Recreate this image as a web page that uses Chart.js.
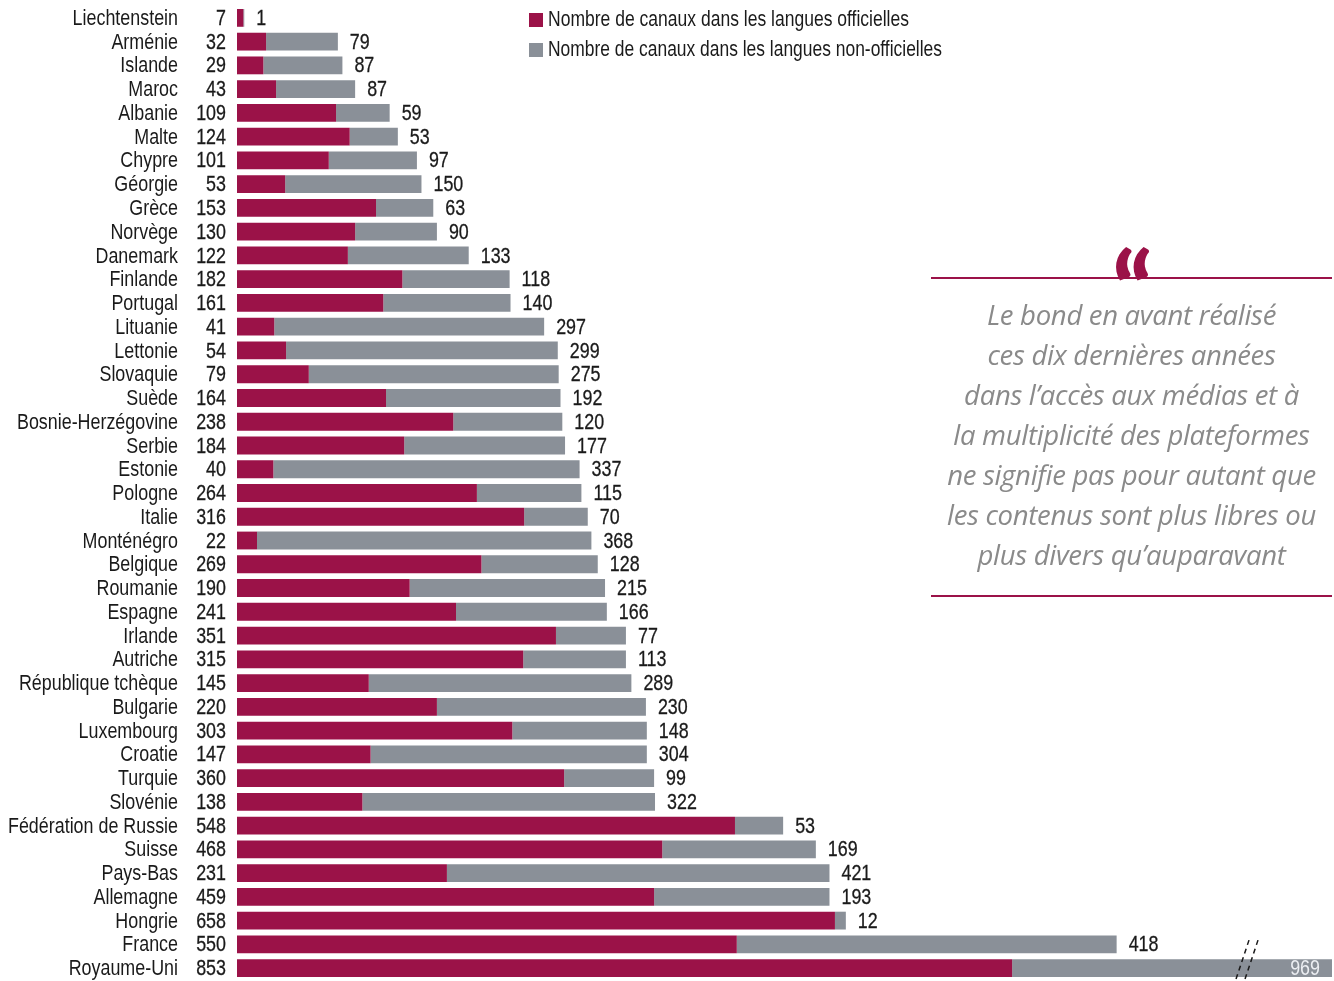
<!DOCTYPE html>
<html>
<head>
<meta charset="utf-8">
<script src="https://cdn.jsdelivr.net/npm/chart.js@4"></script>
<style>
  html, body { margin: 0; padding: 0; background: #fff; }
  #wrap { position: relative; width: 1334px; height: 981px; overflow: hidden; }
  #chart { position: absolute; left: 0; top: 0; }
  #legend { position: absolute; left: 529px; top: 4px; font: 22px "Liberation Sans", Arial, sans-serif;
    color: #1a1a1a; line-height: 30px; white-space: nowrap; }
  #legend span.sw { display: inline-block; width: 14px; height: 14px; margin-right: 5px; vertical-align: -1px; }
  #legend .txt { display: inline-block; transform-origin: left center; }
  #quote { position: absolute; left: 931px; top: 240px; width: 401px; }
  #quote .rule { height: 0; border-top: 2px solid #9b1248; }
  #quote .mark { position: absolute; left: 0; right: 0; top: -2px; text-align: center; color: #9b1248;
    font: 900 102px Lato, sans-serif; line-height: 102px; letter-spacing: -2px; }
  #quote p { margin: 0; padding: 16px 0 20px; text-align: center; color: #8a8a8a; font-style: italic;
    font-family: "Open Sans", sans-serif; font-size: 27.5px; line-height: 40px; letter-spacing: -0.3px; }
</style>
</head>
<body>
<div id="wrap">
  <canvas id="chart" width="1334" height="981"></canvas>
  <div id="legend">
    <div><span class="sw" style="background:#9b1248"></span><span class="txt" data-w="361">Nombre de canaux dans les langues officielles</span></div>
    <div><span class="sw" style="background:#8a9098"></span><span class="txt" data-w="394">Nombre de canaux dans les langues non-officielles</span></div>
  </div>
  <div id="quote">
    <div class="mark">&#8220;</div>
    <div class="rule" style="margin-top:37px"></div>
    <p>Le bond en avant réalisé<br>ces dix dernières années<br>dans l’accès aux médias et à<br>la multiplicité des plateformes<br>ne signifie pas pour autant que<br>les contenus sont plus libres ou<br>plus divers qu’auparavant</p>
    <div class="rule"></div>
  </div>
</div>
<script>
const countries = ['Liechtenstein', 'Arménie', 'Islande', 'Maroc', 'Albanie', 'Malte', 'Chypre', 'Géorgie',
  'Grèce', 'Norvège', 'Danemark', 'Finlande', 'Portugal', 'Lituanie', 'Lettonie', 'Slovaquie', 'Suède',
  'Bosnie-Herzégovine', 'Serbie', 'Estonie', 'Pologne', 'Italie', 'Monténégro', 'Belgique', 'Roumanie',
  'Espagne', 'Irlande', 'Autriche', 'République tchèque', 'Bulgarie', 'Luxembourg', 'Croatie', 'Turquie',
  'Slovénie', 'Fédération de Russie', 'Suisse', 'Pays-Bas', 'Allemagne', 'Hongrie', 'France', 'Royaume-Uni'];

const official = [7, 32, 29, 43, 109, 124, 101, 53, 153, 130, 122, 182, 161, 41, 54, 79, 164, 238, 184, 40,
  264, 316, 22, 269, 190, 241, 351, 315, 145, 220, 303, 147, 360, 138, 548, 468, 231, 459, 658, 550, 853];

const nonOfficial = [1, 79, 87, 87, 59, 53, 97, 150, 63, 90, 133, 118, 140, 297, 299, 275, 192, 120, 177, 337,
  115, 70, 368, 128, 215, 166, 77, 113, 289, 230, 148, 304, 99, 322, 53, 169, 421, 193, 12, 418, 969];

const xMax = 1205; // the last bar is cut at the right edge (axis break)
const FONT = '"Liberation Sans", Arial, sans-serif';

// squeeze the legend text to look like the condensed face of the original
document.querySelectorAll('#legend .txt').forEach(el => {
  const w = el.getBoundingClientRect().width;
  el.style.transform = 'scaleX(' + (el.dataset.w / w) + ')';
});

let squeeze = 1;

function narrowText(ctx, text, x, y, align, heavy) {
  ctx.save();
  ctx.translate(x, y);
  ctx.scale(squeeze, 1);
  ctx.textAlign = align;
  ctx.fillText(text, 0, 0);
  if (heavy) {
    ctx.lineWidth = 0.3;
    ctx.strokeStyle = ctx.fillStyle;
    ctx.strokeText(text, 0, 0);
  }
  ctx.restore();
}

const labelPlugin = {
  id: 'labels',
  afterDatasetsDraw(chart) {
    const { ctx, scales: { x, y }, chartArea } = chart;
    ctx.save();
    ctx.textBaseline = 'middle';
    ctx.font = '22px ' + FONT;
    squeeze = 170 / ctx.measureText('Fédération de Russie').width;
    countries.forEach((name, i) => {
      const yy = y.getPixelForValue(i) + 1;
      ctx.font = '22px ' + FONT;
      ctx.fillStyle = '#1a1a1a';
      narrowText(ctx, name, 178, yy, 'right');
      narrowText(ctx, official[i], 226, yy, 'right', true);

      const end = x.getPixelForValue(official[i] + nonOfficial[i]);
      if (end > chartArea.right) {
        ctx.fillStyle = '#eceef2';
        narrowText(ctx, nonOfficial[i], chartArea.right - 12, yy, 'right');
      } else {
        ctx.fillStyle = '#1a1a1a';
        narrowText(ctx, nonOfficial[i], end + 12, yy, 'left', true);
      }
    });

    // axis break marks on the truncated bar
    const last = countries.length - 1;
    const yc = y.getPixelForValue(last);
    ctx.strokeStyle = '#1a1a1a';
    ctx.lineWidth = 1.5;
    ctx.setLineDash([5, 4]);
    [0, 9].forEach(dx => {
      ctx.beginPath();
      ctx.moveTo(1249 + dx, yc - 28);
      ctx.lineTo(1235 + dx, yc + 14);
      ctx.stroke();
    });
    ctx.restore();
  }
};

new Chart(document.getElementById('chart'), {
  type: 'bar',
  data: {
    labels: countries,
    datasets: [
      { label: 'Nombre de canaux dans les langues officielles', data: official, backgroundColor: '#9b1248' },
      { label: 'Nombre de canaux dans les langues non-officielles', data: nonOfficial, backgroundColor: '#8a9098' }
    ]
  },
  options: {
    indexAxis: 'y',
    responsive: false,
    animation: false,
    layout: { padding: { left: 237, right: 2, top: 6, bottom: 1 } },
    datasets: { bar: { barPercentage: 0.75, categoryPercentage: 1 } },
    scales: {
      x: { stacked: true, display: false, min: 0, max: xMax },
      y: { stacked: true, display: false }
    },
    plugins: { legend: { display: false }, tooltip: { enabled: false } }
  },
  plugins: [labelPlugin]
});
</script>
</body>
</html>
